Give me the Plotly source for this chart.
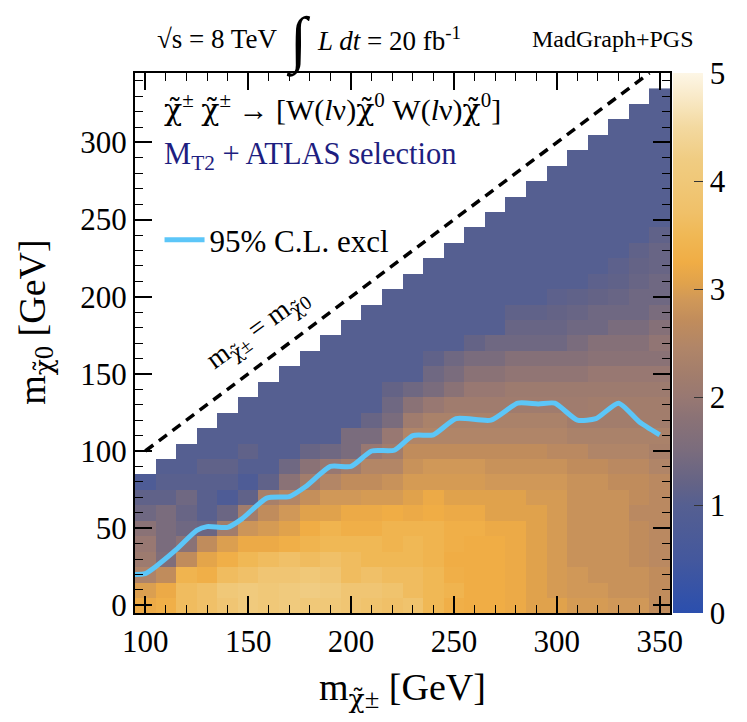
import plotly.graph_objects as go

# ---------------- data ----------------
m_chargino = [100, 110, 120, 130, 140, 150, 160, 170, 180, 190, 200, 210, 220,
              230, 240, 250, 260, 270, 280, 290, 300, 310, 320, 330, 340, 350]
m_neutralino = [0, 10, 20, 30, 40, 50, 60, 70, 80, 90, 100, 110, 120, 130, 140, 150, 160,
                170, 180, 190, 200, 210, 220, 230, 240, 250, 260, 270, 280, 290, 300, 310, 320, 330]

# significance per row (m_neutralino), listed from the first allowed chargino mass up to 350 GeV
r000 = [3.2, 3.3, 3.6, 3.7, 3.9, 4.1, 4.0, 4.1, 4.0, 4.0, 3.9, 3.8, 3.7, 3.8, 3.5, 3.3, 3.25, 3.25, 3.2, 3.05, 3.05, 2.95, 2.95, 2.9, 2.9, 2.7]
r010 = [3.0, 3.2, 3.6, 3.7, 4.0, 4.1, 4.0, 4.1, 4.2, 4.1, 3.9, 3.9, 3.8, 3.6, 3.5, 3.4, 3.25, 3.25, 3.2, 3.05, 2.95, 2.9, 2.9, 2.8, 2.8, 2.7]
r020 = [2.4, 2.7, 3.4, 3.3, 3.6, 3.7, 3.9, 3.9, 4.0, 3.9, 3.6, 3.7, 3.6, 3.6, 3.5, 3.3, 3.25, 3.25, 3.2, 3.05, 2.95, 2.9, 2.8, 2.8, 2.8, 2.7]
r030 = [2.1, 1.6, 2.7, 3.1, 3.3, 3.5, 3.6, 3.7, 3.6, 3.7, 3.6, 3.5, 3.5, 3.5, 3.4, 3.25, 3.25, 3.25, 3.2, 3.05, 2.95, 2.8, 2.8, 2.8, 2.7, 2.6]
r040 = [2.0, 1.5, 1.8, 2.7, 3.0, 3.2, 3.2, 3.3, 3.4, 3.5, 3.5, 3.5, 3.4, 3.5, 3.4, 3.3, 3.25, 3.25, 3.2, 3.05, 2.95, 2.8, 2.8, 2.8, 2.7, 2.6]
r050 = [1.8, 1.5, 1.35, 1.3, 2.2, 2.85, 2.95, 3.05, 3.25, 3.4, 3.3, 3.3, 3.4, 3.4, 3.4, 3.3, 3.3, 3.2, 3.2, 3.05, 2.95, 2.8, 2.8, 2.8, 2.7, 2.6]
r060 = [1.35, 1.5, 1.25, 1.05, 1.3, 2.2, 2.7, 2.9, 3.05, 3.05, 3.2, 3.2, 3.25, 3.2, 3.25, 3.2, 3.2, 3.05, 3.05, 3.05, 2.95, 2.8, 2.8, 2.8, 2.6, 2.6]
r070 = [1.15, 1.15, 1.35, 1.05, 0.8, 1.15, 2.3, 2.5, 2.75, 2.9, 2.9, 2.95, 2.95, 3.05, 3.2, 3.05, 3.05, 3.05, 3.05, 2.95, 2.95, 2.8, 2.8, 2.8, 2.7, 2.6]
r080 = [0.8, 1.05, 1.05, 1.05, 1.05, 0.8, 1.15, 1.8, 2.2, 2.5, 2.7, 2.7, 2.8, 2.95, 2.95, 2.95, 2.95, 2.9, 2.9, 2.9, 2.9, 2.8, 2.8, 2.7, 2.7, 2.6]
r090 = [1.0, 1.0, 1.15, 1.15, 1.0, 1.0, 1.35, 1.8, 2.0, 2.2, 2.5, 2.5, 2.8, 2.9, 2.9, 2.9, 2.8, 2.8, 2.8, 2.8, 2.7, 2.7, 2.6, 2.6, 2.45]
r100 = [1.0, 1.0, 1.0, 1.15, 1.0, 1.0, 1.25, 1.35, 1.5, 2.0, 2.2, 2.7, 2.7, 2.7, 2.7, 2.7, 2.7, 2.7, 2.6, 2.6, 2.45, 2.45, 2.45, 2.3]
r110 = [1.0, 1.0, 1.0, 1.0, 1.0, 1.0, 1.0, 1.5, 1.5, 2.0, 2.45, 2.45, 2.45, 2.45, 2.45, 2.45, 2.45, 2.45, 2.35, 2.35, 2.35, 2.35, 2.35]
r120 = [1.0, 1.0, 1.0, 1.0, 1.0, 1.0, 1.0, 1.25, 1.5, 2.15, 2.35, 2.35, 2.35, 2.35, 2.35, 2.35, 2.35, 2.2, 2.2, 2.2, 2.2, 2.2]
r130 = [1.0, 1.0, 1.0, 1.0, 1.0, 1.0, 1.0, 1.35, 1.8, 2.0, 2.15, 2.15, 2.15, 2.15, 2.15, 2.15, 2.15, 2.2, 2.2, 2.2, 2.2]
r140 = [1.0, 1.0, 1.0, 1.0, 1.0, 1.0, 1.2, 1.35, 1.5, 1.8, 2.0, 2.0, 2.1, 2.1, 2.1, 2.1, 2.1, 2.1, 2.1, 2.1]
r150 = [1.0, 1.0, 1.0, 1.0, 1.0, 1.0, 1.0, 1.35, 1.5, 1.8, 1.8, 1.9, 1.9, 1.9, 1.9, 2.0, 2.0, 2.0, 2.0]
r160 = [1.0, 1.0, 1.0, 1.0, 1.0, 1.0, 1.15, 1.35, 1.5, 1.5, 1.7, 1.7, 1.7, 1.7, 1.8, 1.8, 1.8, 1.8]
r170 = [1.0, 1.0, 1.0, 1.0, 1.0, 1.0, 1.0, 1.2, 1.35, 1.35, 1.35, 1.35, 1.5, 1.7, 1.7, 1.7, 1.9]
r180 = [1.0, 1.0, 1.0, 1.0, 1.0, 1.0, 1.0, 1.0, 1.25, 1.25, 1.25, 1.35, 1.35, 1.5, 1.5, 1.7]
r190 = [1.0, 1.0, 1.0, 1.0, 1.0, 1.0, 1.0, 1.15, 1.15, 1.2, 1.25, 1.35, 1.35, 1.35, 1.5]
r200 = [1.0, 1.0, 1.0, 1.0, 1.0, 1.0, 1.0, 1.0, 1.1, 1.15, 1.2, 1.25, 1.35, 1.35]
r210 = [1.0, 1.0, 1.0, 1.0, 1.0, 1.0, 1.0, 1.0, 1.0, 1.1, 1.15, 1.25, 1.35]
r220 = [1.0, 1.0, 1.0, 1.0, 1.0, 1.0, 1.0, 1.0, 1.0, 1.1, 1.2, 1.25]
r230 = [1.0, 1.0, 1.0, 1.0, 1.0, 1.0, 1.0, 1.0, 1.0, 1.15, 1.25]
r240 = [1.0, 1.0, 1.0, 1.0, 1.0, 1.0, 1.0, 1.0, 1.0, 1.15]
r250 = [1.0, 1.0, 1.0, 1.0, 1.0, 1.0, 1.0, 1.0, 1.0]
r260 = [1.0, 1.0, 1.0, 1.0, 1.0, 1.0, 1.0, 1.0]
r270 = [1.0, 1.0, 1.0, 1.0, 1.0, 1.0, 1.0]
r280 = [1.0, 1.0, 1.0, 1.0, 1.0, 1.0]
r290 = [1.0, 1.0, 1.0, 1.0, 1.0]
r300 = [1.0, 1.0, 1.0, 1.0]
r310 = [1.0, 1.0, 1.0]
r320 = [1.0, 1.0]
r330 = [1.0]

rows = [r000, r010, r020, r030, r040, r050, r060, r070, r080, r090, r100, r110, r120,
        r130, r140, r150, r160, r170, r180, r190, r200, r210, r220, r230, r240, r250,
        r260, r270, r280, r290, r300, r310, r320, r330]

# 95% C.L. exclusion contour
excl_x = [95, 100, 105, 115, 125, 130, 140, 147, 159, 170, 178, 190, 200, 210, 221,
          230, 240, 251, 268, 281, 291, 299, 310, 319, 330, 340, 350]
excl_y = [20, 20.5, 25, 36, 48.5, 51, 50.5, 56, 69.5, 70.5, 77, 90, 90, 100, 100.5,
          110, 110.5, 121, 120, 131, 130.5, 131, 120, 121, 131, 119, 110.5]

# kinematic boundary m_chargino = m_neutralino
diag_x = [100, 345]
diag_y = [100, 345]

# ---------------- figure ----------------
ncol = len(m_chargino)
z = [[None] * (ncol - len(r)) + r for r in rows]

FONT = "'Liberation Serif', 'Times New Roman', Times, serif"
CHI = "<span style=\"font-family:'DejaVu Serif'\">χ̃</span>"
colorscale = [
    [0.00, "#2b4fae"], [0.10, "#44589d"], [0.20, "#555f91"], [0.24, "#646386"],
    [0.30, "#7a6c7d"], [0.36, "#8a7276"], [0.40, "#987872"], [0.44, "#a27d6c"],
    [0.49, "#b08568"], [0.54, "#c08c5c"], [0.58, "#d09858"], [0.61, "#e0a24c"],
    [0.65, "#f0ad45"], [0.70, "#f0b855"], [0.74, "#f0c068"], [0.80, "#f0c878"],
    [0.84, "#f0cc82"], [0.90, "#f3d9a0"], [0.95, "#f8e8c4"], [1.00, "#fdf6e6"],
]

L, R, T, B = 135, 680, 73, 613
W, H = 747, 722
PW, PH = R - L, B - T


def px(X):
    return (X - L) / PW


def py(Y):
    return (B - Y) / PH


fig = go.Figure()
fig.add_trace(go.Heatmap(
    x=m_chargino, y=m_neutralino, z=z, zmin=0, zmax=5,
    colorscale=colorscale, showscale=True, hoverongaps=False,
    colorbar=dict(x=px(683), xanchor="left", xpad=0, y=0.5, yanchor="middle", ypad=0,
                  len=1, lenmode="fraction", thickness=30, thicknessmode="pixels",
                  outlinewidth=0, ticks="inside", ticklen=9, tickcolor="#333",
                  tickvals=[0, 1, 2, 3, 4, 5],
                  tickprefix="\u00a0",
                  tickfont=dict(family=FONT, size=31, color="black")),
    showlegend=False,
))
fig.add_trace(go.Scatter(
    x=diag_x, y=diag_y, mode="lines",
    line=dict(color="black", width=3.5, dash="10px,7px"), showlegend=False,
))
fig.add_trace(go.Scatter(
    x=excl_x, y=excl_y, mode="lines", name="95% C.L. excl",
    line=dict(color="#5cc6f8", width=5, shape="spline", smoothing=0.6),
))

axis_common = dict(
    showline=True, linecolor="black", linewidth=2, mirror="allticks",
    ticks="inside", ticklen=17, tickwidth=1.5, tickcolor="black",
    tickfont=dict(family=FONT, size=31, color="black"),
    showgrid=False, zeroline=False,
    minor=dict(ticks="inside", ticklen=8, tickwidth=1.2, tickcolor="black", dtick=10, showgrid=False),
)
fig.update_xaxes(range=[95, 355], tickvals=[100, 150, 200, 250, 300, 350], **axis_common)
fig.update_yaxes(range=[-5, 345], tickvals=[0, 50, 100, 150, 200, 250, 300], **axis_common)

ann = []
# header
ann.append(dict(x=px(155), y=py(39), xref="paper", yref="paper", xanchor="left", yanchor="middle",
                text="√s = 8 TeV", showarrow=False, font=dict(family=FONT, size=27, color="black")))
ann.append(dict(x=px(302), y=py(41), xref="paper", yref="paper", xanchor="center", yanchor="middle",
                text="∫", showarrow=False, font=dict(family=FONT, size=62, color="black")))
ann.append(dict(x=px(318), y=py(39), xref="paper", yref="paper", xanchor="left", yanchor="middle",
                text="<i>L dt</i> = 20 fb<sup>-1</sup>", showarrow=False,
                font=dict(family=FONT, size=27, color="black")))
ann.append(dict(x=px(537), y=py(39), xref="paper", yref="paper", xanchor="left", yanchor="middle",
                text="MadGraph+PGS", showarrow=False, font=dict(family=FONT, size=24, color="black")))
# process & selection
ann.append(dict(x=px(163), y=py(108), xref="paper", yref="paper", xanchor="left", yanchor="middle",
                text=(CHI + "<sup>±</sup> " + CHI + "<sup>±</sup> → [W(<i>l</i>ν)" + CHI +
                      "<sup>0</sup> W(<i>l</i>ν)" + CHI + "<sup>0</sup>]"),
                showarrow=False, font=dict(family=FONT, size=30, color="black")))
ann.append(dict(x=px(162), y=py(156), xref="paper", yref="paper", xanchor="left", yanchor="middle",
                text="M<sub>T2</sub> + ATLAS selection", showarrow=False,
                font=dict(family=FONT, size=30.5, color="#1e1e80")))
# diagonal label
ann.append(dict(x=155, y=179, xref="x", yref="y", xanchor="center", yanchor="middle",
                text="m<sub>" + CHI + "±</sub> = m<sub>" + CHI + "0</sub>", textangle=-36, showarrow=False,
                font=dict(family=FONT, size=28, color="black")))
# axis titles
ann.append(dict(x=px(408), y=py(690), xref="paper", yref="paper", xanchor="center", yanchor="middle",
                text="m<sub>" + CHI + "±</sub> [GeV]", showarrow=False,
                font=dict(family=FONT, size=38, color="black")))
ann.append(dict(x=px(33), y=py(322), xref="paper", yref="paper", xanchor="center", yanchor="middle",
                text="m<sub>" + CHI + "0</sub> [GeV]", textangle=-90, showarrow=False,
                font=dict(family=FONT, size=38, color="black")))

fig.update_layout(
    width=W, height=H, margin=dict(l=L, r=W - R, t=T, b=H - B),
    paper_bgcolor="white", plot_bgcolor="white",
    annotations=ann,
    legend=dict(x=px(160), y=py(240), xanchor="left", yanchor="middle",
                bgcolor="rgba(0,0,0,0)", font=dict(family=FONT, size=31, color="black"),
                itemwidth=40),
    showlegend=True,
)

fig.write_html("out.html")
